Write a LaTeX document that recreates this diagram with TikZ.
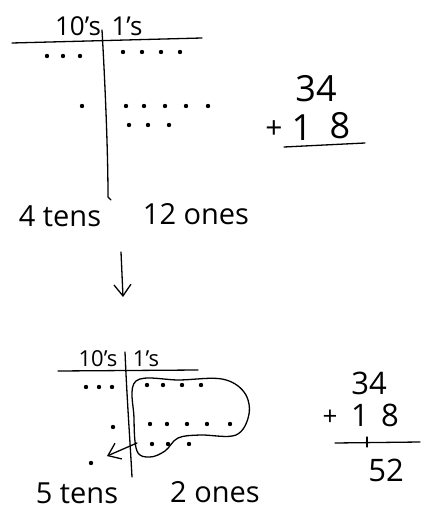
\documentclass[tikz,border=0pt]{standalone}
\usepackage{fontspec}
\setmainfont{Open Sans}
\usetikzlibrary{arrows.meta, positioning}

\begin{document}
\begin{tikzpicture}[x=1pt, y=-1pt,
    pen/.style={line width=1.3pt, line cap=round, line join=round},
    dot/.style={circle, fill, inner sep=0pt, minimum size=4.4pt},
    head/.style={font=\fontsize{26}{30}\selectfont, inner sep=0pt},
    label/.style={font=\fontsize{29}{33}\selectfont, inner sep=0pt},
    digits/.style={font=\fontsize{36}{38}\selectfont, inner sep=0pt, text height=26pt, text depth=0pt},
    small digits/.style={font=\fontsize{31}{33}\selectfont, inner sep=0pt, text height=22pt, text depth=0pt},
    arrow/.style={pen, -{Straight Barb[length=4mm, width=6mm, line width=1.3pt]}}
]
\useasboundingbox (0,0) rectangle (420,510);

% Top place-value chart
\node[head] (tenshead) at (78,26) {10's};
\node[head] (oneshead) at (127,26) {1's};
\draw[pen] (12,43) -- (202,38);
\draw[pen] (102,30) .. controls (106,100) and (108,160) .. (108,197) -- (111,200);

\foreach \x [count=\i] in {47,63,80} \node[dot] (ta\i) at (\x,56) {};
\node[dot] (tb1) at (82,106) {};
\foreach \x [count=\i] in {123,142,161,180} \node[dot] (oa\i) at (\x,52) {};
\foreach \x [count=\i] in {126,144,165,186,208} \node[dot] (ob\i) at (\x,106) {};
\foreach \x [count=\i] in {129,148,169} \node[dot] (oc\i) at (\x,125) {};

\node[label] (fourtens) at (60,216) {4 tens};
\node[label] (twelveones) at (196,214) {12 ones};

% Top sum
\node[digits] (topa) at (316,89) {34};
\node[digits, font=\fontsize{30}{32}\selectfont] (topplus) at (274,126) {+};
\node[digits] (topone) at (302,128) {1};
\node[digits] (topeight) at (340,126) {8};
\draw[pen] (284,147) -- (365,143);

% Arrow between the two charts
\coordinate (downfrom) at (121,252);
\coordinate (downto) at (123,297);
\draw[arrow] (downfrom) -- (downto);

% Bottom place-value chart
\node[head, font=\fontsize{22}{26}\selectfont] (tenshead2) at (98,359) {10's};
\node[head, font=\fontsize{22}{26}\selectfont] (oneshead2) at (146,359) {1's};
\draw[pen] (58,371) -- (198,370);
\draw[pen] (125,352) .. controls (127,400) and (130,440) .. (132,477);

\foreach \x [count=\i] in {86,99,112} \node[dot] (la\i) at (\x,387) {};
\node[dot] (lb1) at (113,427) {};
\node[dot] (carry) at (91,463) {};
\foreach \x [count=\i] in {147,163,182,201} \node[dot] (ra\i) at (\x,385) {};
\foreach \x [count=\i] in {150,167,187,207,230} \node[dot] (rb\i) at (\x,424) {};
\foreach \x [count=\i] in {152,168,189} \node[dot] (rc\i) at (\x,444) {};

% Ten ones grouped and carried
\draw[pen] plot[smooth cycle, tension=0.6] coordinates {(136,381) (180,380) (222,379) (244,392) (249,414) (236,435) (200,435) (178,438) (165,451) (150,457) (137,451) (134,418)};
\coordinate (grouptail) at (137,443);
\draw[arrow, shorten >=15pt] (grouptail) -- (carry);

\node[label] (fivetens) at (77,493) {5 tens};
\node[label] (twoones) at (215,492) {2 ones};

% Bottom sum
\node[small digits] (bota) at (369,383) {34};
\node[small digits, font=\fontsize{26}{28}\selectfont] (botplus) at (330,414) {+};
\node[small digits] (botone) at (360,415) {1};
\node[small digits] (boteight) at (390,415) {8};
\draw[pen] (335,443) -- (420,442);
\draw[pen] (367,437) -- (367,447);
\node[small digits] (botsum) at (386,470) {52};

\end{tikzpicture}
\end{document}
